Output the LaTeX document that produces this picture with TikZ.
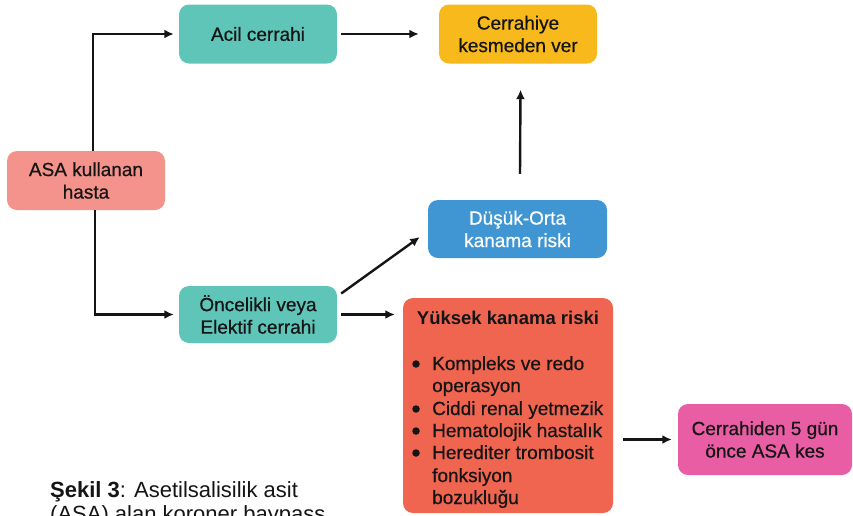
\documentclass[tikz,border=0pt]{standalone}
\usepackage{fontspec}
\setmainfont{Liberation Sans}
\newfontfamily\medfont{Liberation Sans}[FakeBold=0.6]
\usetikzlibrary{arrows.meta}

\definecolor{tealbox}{HTML}{5FC5B8}
\definecolor{yellowbox}{HTML}{F7B91B}
\definecolor{salmonbox}{HTML}{F3938B}
\definecolor{bluebox}{HTML}{3F96D3}
\definecolor{redbox}{HTML}{EF6550}
\definecolor{pinkbox}{HTML}{E95DA4}
\definecolor{ink}{HTML}{151515}

\tikzset{
  box/.style={rounded corners=10pt, draw=none, align=center, inner sep=0pt,
    text=ink, font=\medfont\fontsize{19}{22.5}\selectfont},
  arr/.style={-{Latex[length=9.5pt,width=9pt]}, line width=2.4pt, ink},
  itemtext/.style={anchor=base west, inner sep=0pt, text=ink,
    font=\medfont\fontsize{19}{22}\selectfont},
  bulletdot/.style={circle, fill=ink, inner sep=0pt, minimum size=7.5pt},
}

\begin{document}
\begin{tikzpicture}[x=1pt, y=-1pt]
  \fill[white] (0,0) rectangle (853,515);
  \useasboundingbox (0,0) rectangle (853,515);

  % boxes
  \node[box, fill=salmonbox, minimum width=158pt, minimum height=59pt] (asa) at (86,180.5) {ASA kullanan\\hasta};
  \node[box, fill=tealbox, minimum width=158pt, minimum height=59pt] (acil) at (258,34) {Acil cerrahi};
  \node[box, fill=yellowbox, minimum width=158pt, minimum height=59pt] (ver) at (518,34) {Cerrahiye\\kesmeden ver};
  \node[box, fill=bluebox, text=white, minimum width=179pt, minimum height=58pt] (dusuk) at (517.5,229) {Düşük-Orta\\kanama riski};
  \node[box, fill=tealbox, minimum width=158pt, minimum height=57pt] (oncelik) at (258,314.5) {Öncelikli veya\\Elektif cerrahi};
  \node[box, fill=redbox, minimum width=210pt, minimum height=215pt] (yuksek) at (508,405.5) {};
  \node[box, fill=pinkbox, minimum width=174pt, minimum height=71pt] (kes) at (765,439.5) {Cerrahiden 5 gün\\önce ASA kes};

  % contents of the high-risk box
  \node[itemtext, anchor=base, font=\bfseries\fontsize{18.5}{22}\selectfont] (ytitle) at (508,324) {Yüksek kanama riski};
  \node[bulletdot] (b1) at (416,364) {};
  \node[itemtext] (i1a) at (432,370) {Kompleks ve redo};
  \node[itemtext] (i1b) at (432,392) {operasyon};
  \node[bulletdot] (b2) at (416,409) {};
  \node[itemtext] (i2) at (432,415) {Ciddi renal yetmezik};
  \node[bulletdot] (b3) at (416,431) {};
  \node[itemtext] (i3) at (432,437) {Hematolojik hastalık};
  \node[bulletdot] (b4) at (416,453) {};
  \node[itemtext] (i4a) at (432,459) {Herediter trombosit};
  \node[itemtext] (i4b) at (432,482) {fonksiyon};
  \node[itemtext] (i4c) at (432,504) {bozukluğu};

  % caption
  \node[itemtext, font=\fontsize{22}{24}\selectfont] (cap1) at (50,497) {\textbf{Şekil 3}: Asetilsalisilik asit};
  \node[itemtext, font=\fontsize{22}{24}\selectfont] (cap2) at (50,521) {(ASA) alan koroner baypass};

  % connectors
  \draw[arr] ([xshift=7pt]asa.north) |- ([xshift=-5pt]acil.west);
  \draw[arr] ([xshift=9pt]asa.south) |- ([xshift=-5pt]oncelik.west);
  \draw[arr] ([xshift=4pt]acil.east) -- ([xshift=-20pt]ver.west);
  \draw[arr] ([xshift=2.5pt,yshift=26pt]dusuk.north) -- ([xshift=2.5pt,yshift=-26pt]ver.south);
  \draw[arr] ([xshift=4pt,yshift=21pt]oncelik.east) -- ([xshift=-8pt,yshift=-8pt]dusuk.west);
  \draw[arr] ([xshift=4pt]oncelik.east) -- ([xshift=-8pt]yuksek.west |- oncelik.east);
  \draw[arr] ([xshift=10pt]yuksek.east |- kes.west) -- ([xshift=-6pt]kes.west);
\end{tikzpicture}
\end{document}
